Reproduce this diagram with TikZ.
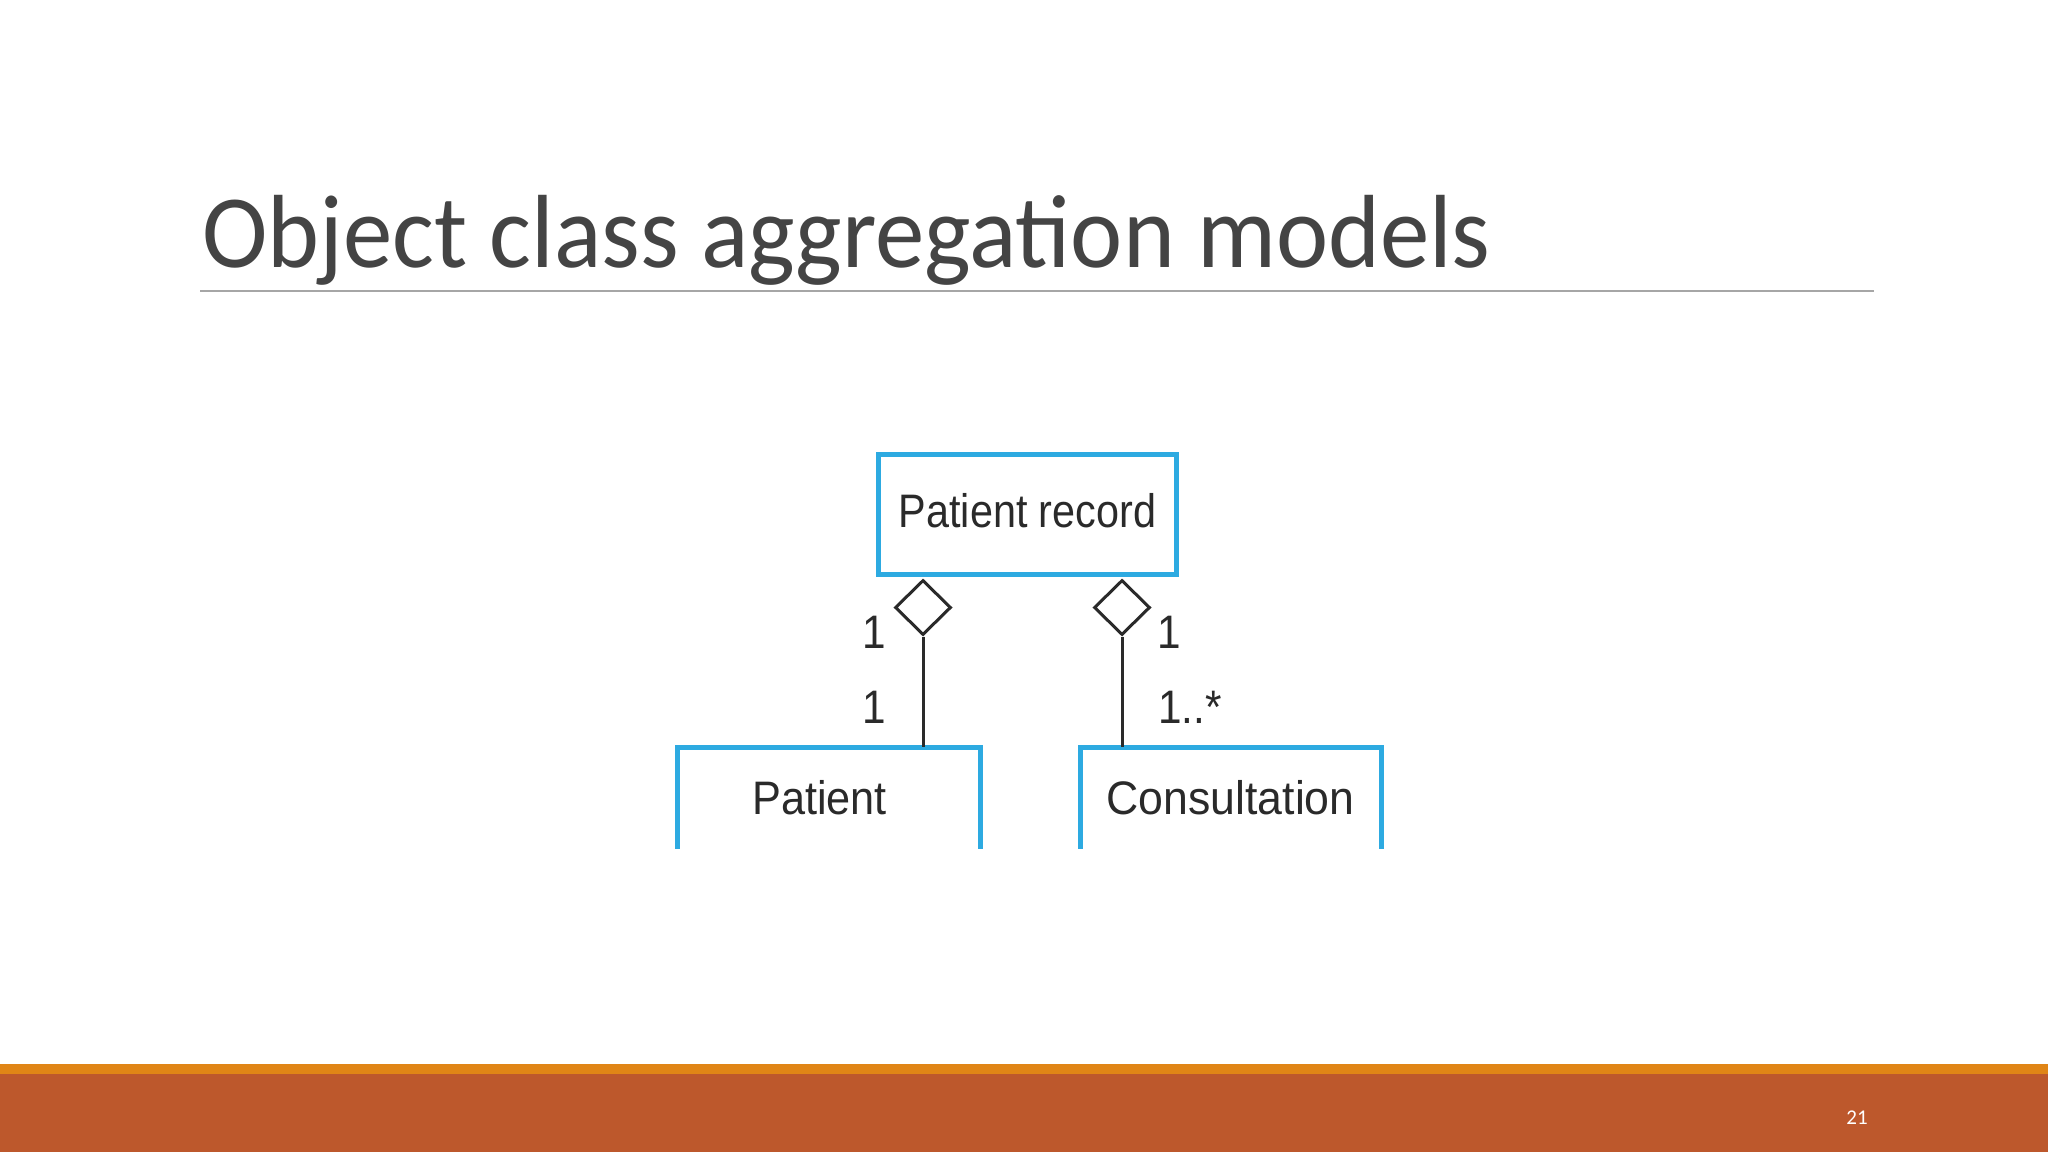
\documentclass[tikz,border=0pt]{standalone}
\usepackage{graphicx}
\usepackage{fontspec}
\setmainfont{Carlito}
\newfontfamily\diagfont{Liberation Sans}
\usetikzlibrary{shapes.geometric}
\definecolor{titlegray}{HTML}{444444}
\definecolor{rulegray}{HTML}{A6A6A6}
\definecolor{umlblue}{RGB}{45,170,225}
\definecolor{inkgray}{HTML}{2A2A2A}
\definecolor{barorange}{RGB}{224,133,22}
\definecolor{barbrown}{RGB}{189,88,44}
\newcommand\cnd[2]{\scalebox{#1}[1]{#2}}
\begin{document}
\begin{tikzpicture}[x=0.5pt,y=-0.5pt,
  dfont/.style={font=\fontsize{23.5}{26}\selectfont\diagfont, text=inkgray},
  umlbox/.style={dfont, inner sep=0pt, line width=2.5pt},
  agg/.style={diamond, draw=inkgray, line width=1.5pt, inner sep=0pt, minimum width=28pt, minimum height=27.5pt},
  conn/.style={draw=inkgray, line width=1.5pt},
  mult/.style={dfont, inner sep=0pt}]
\useasboundingbox (0,0) rectangle (2048,1152);
\fill[white] (0,0) rectangle (2048,1152);
% title
\node[anchor=base west, inner sep=0pt, font=\fontsize{52}{58}\selectfont, text=titlegray] (title) at (202,267) {\cnd{0.95}{Object class aggregation models}};
\coordinate (ruleL) at (200,291);
\coordinate (ruleR) at (1874,291);
\draw[rulegray, line width=1pt] (ruleL) -- (ruleR);
% footer bar
\fill[barorange] (0,1064) rectangle (2048,1074);
\fill[barbrown] (0,1074) rectangle (2048,1152);
\node[inner sep=0pt, font=\fontsize{10.5}{12}\selectfont, text=white] (pgnum) at (1857,1118) {21};
% classes
\node[umlbox, draw=umlblue, minimum width=149pt, minimum height=60pt] (pr) at (1027.5,514.5) {\raisebox{4pt}{\cnd{0.88}{Patient record}}};
\node[umlbox, minimum width=149pt, minimum height=48.25pt] (pat) at (828.5,797.75) {\hspace*{-9pt}\cnd{0.92}{Patient}};
\node[umlbox, minimum width=148pt, minimum height=48.25pt] (con) at (1230.5,797.75) {\cnd{0.95}{Consultation}};
\draw[umlblue, line width=2.5pt] (pat.south west) -- (pat.north west) -- (pat.north east) -- (pat.south east);
\draw[umlblue, line width=2.5pt] (con.south west) -- (con.north west) -- (con.north east) -- (con.south east);
% aggregation diamonds
\node[agg] (d1) at (923,607.5) {};
\node[agg] (d2) at (1122,607.5) {};
\draw[conn] (d1.south) -- (d1.south |- pat.north);
\draw[conn] (d2.south) -- (d2.south |- con.north);
% multiplicities
\node[mult] (m1) at (874,632) {\cnd{0.9}{1}};
\node[mult] (m2) at (874,707) {\cnd{0.9}{1}};
\node[mult] (m3) at (1169,632) {\cnd{0.9}{1}};
\node[mult] (m4) at (1190,707) {\cnd{0.9}{1..*}};
\end{tikzpicture}
\end{document}
